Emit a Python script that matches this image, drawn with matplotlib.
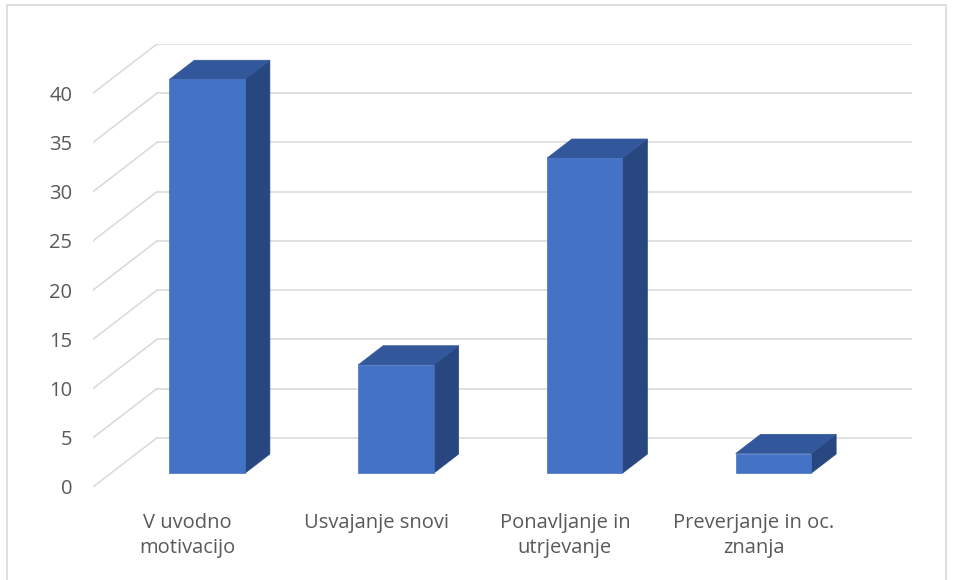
import matplotlib.pyplot as plt
from matplotlib.patches import Polygon, Rectangle

# data
categories = ["V uvodno\nmotivacijo", "Usvajanje snovi", "Ponavljanje in\nutrjevanje", "Preverjanje in oc.\nznanja"]
values = [40, 11, 32, 2]
yticks = [0, 5, 10, 15, 20, 25, 30, 35, 40]

# look
front_col = "#4472C4"
top_col = "#32579B"
side_col = "#284781"
grid_col = "#D9D9D9"
text_col = "#595959"

# oblique depth of the floor/back wall (x in category units, y in value units)
DX = 0.339
DY = 5.0
d0, d1 = 0.28, 0.67   # bar depth range
bw = 0.4              # bar width

plt.rcParams['font.family'] = ['Open Sans', 'DejaVu Sans']

fig = plt.figure(figsize=(9.54, 5.8), dpi=100)
W, H = 954, 580
ax = fig.add_axes([93 / W, (H - 487) / H, (912 - 93) / W, (487 - 44) / H])

n = len(categories)
x_left, x_right = -0.5, n - 0.5
ax.set_xlim(x_left, x_right + DX)
ax.set_ylim(0, yticks[-1] + DY)

# gridlines: diagonal on the side wall, then horizontal on the back wall
for v in yticks:
    ax.plot([x_left, x_left + DX], [v, v + DY], color=grid_col, lw=1.1, zorder=1)
    ax.plot([x_left + DX, x_right + DX], [v + DY, v + DY], color=grid_col, lw=1.1, zorder=1)

# 3d columns
for i, v in enumerate(values):
    xl = i - bw / 2 + d0 * DX + 0.01
    xr = xl + bw
    yb = d0 * DY
    ddx = (d1 - d0) * DX
    ddy = (d1 - d0) * DY
    front = [(xl, yb), (xr, yb), (xr, yb + v), (xl, yb + v)]
    top = [(xl, yb + v), (xr, yb + v), (xr + ddx, yb + v + ddy), (xl + ddx, yb + v + ddy)]
    side = [(xr, yb), (xr + ddx, yb + ddy), (xr + ddx, yb + v + ddy), (xr, yb + v)]
    ax.add_patch(Polygon(side, closed=True, facecolor=side_col, edgecolor=side_col, lw=0.5, zorder=3))
    ax.add_patch(Polygon(top, closed=True, facecolor=top_col, edgecolor=top_col, lw=0.5, zorder=3))
    ax.add_patch(Polygon(front, closed=True, facecolor=front_col, edgecolor=front_col, lw=0.5, zorder=4))

ax.set_yticks(yticks)
ax.set_yticklabels([str(t) for t in yticks], fontsize=14.5, color=text_col)
ax.set_xticks(range(n))
ax.set_xticklabels(categories, fontsize=14.5, color=text_col, linespacing=1.3, va='top')
ax.tick_params(axis='y', length=0, pad=15)
ax.tick_params(axis='x', length=0, pad=19)
for s in ax.spines.values():
    s.set_visible(False)
ax.set_facecolor('none')

# chart area border
fig.patches.append(Rectangle((7 / W, -0.01), (946 - 7) / W, (H - 5) / H + 0.01,
                             transform=fig.transFigure, fill=False,
                             edgecolor=grid_col, lw=1.2))

fig.savefig("out.png", dpi=100)
